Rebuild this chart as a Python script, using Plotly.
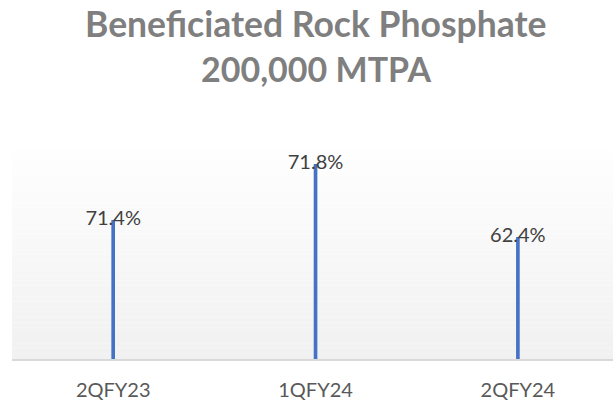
import plotly.graph_objects as go

# Data
categories = ["2QFY23", "1QFY24", "2QFY24"]
bar_heights = [139, 195, 122]          # relative bar heights as drawn
labels = ["71.4%", "71.8%", "62.4%"]   # data labels
title_lines = ["Beneficiated Rock Phosphate", "200,000 MTPA"]

BAR_COLOR = "#4472C4"

fig = go.Figure()

fig.add_trace(go.Bar(
    x=categories, y=bar_heights, width=0.018,
    marker=dict(color=BAR_COLOR, line=dict(width=0)),
    hoverinfo="skip",
))
fig.add_trace(go.Scatter(
    x=categories, y=bar_heights, text=labels, mode="text",
    textposition="middle center",
    textfont=dict(family="Lato", size=20, color="#404040"),
    hoverinfo="skip", cliponaxis=False,
))

# vertical gradient background for plot area
steps = 40
shapes = []
top = (0xfe, 0xfe, 0xfe)
bot = (0xf1, 0xf1, 0xf1)
for i in range(steps):
    t = (i + 0.5) / steps
    c = tuple(round(bot[k] + (top[k] - bot[k]) * t) for k in range(3))
    shapes.append(dict(
        type="rect", xref="paper", yref="paper",
        x0=0, x1=1, y0=i / steps, y1=(i + 1) / steps,
        fillcolor="rgb(%d,%d,%d)" % c, line=dict(width=0), layer="below",
    ))

annotations = []
for txt, yy, fs in zip(title_lines, [1.606, 1.392], [35.5, 34]):
    annotations.append(dict(
        text="<b>%s</b>" % txt, xref="paper", yref="paper",
        x=0.505, y=yy, xanchor="center", yanchor="middle", showarrow=False,
        font=dict(family="Lato", size=fs, color="#7f7f7f"),
    ))

fig.update_layout(
    width=613, height=403,
    margin=dict(l=12, r=0, t=150, b=44),
    paper_bgcolor="white", plot_bgcolor="white",
    showlegend=False,
    shapes=shapes,
    annotations=annotations,
    xaxis=dict(
        range=[-0.5, 2.47], showgrid=False, zeroline=False,
        showline=True, linecolor="#d9d9d9", linewidth=2,
        ticks="", ticklabelstandoff=12,
        tickfont=dict(family="Lato", size=20, color="#595959"),
    ),
    yaxis=dict(
        range=[0, 209], visible=False, showgrid=False, zeroline=False,
    ),
)

fig.write_html(
    "out.html",
    config={"displayModeBar": False},
    post_script="document.body.style.margin='0';document.body.style.overflow='hidden';",
)
